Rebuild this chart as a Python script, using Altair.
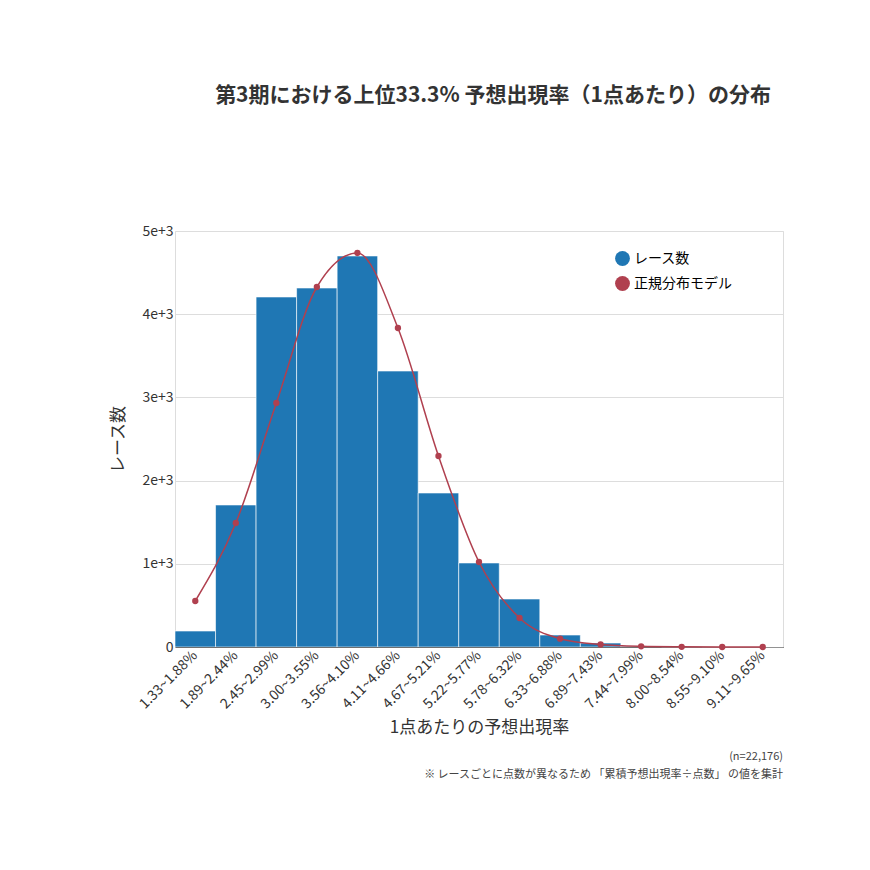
import pandas as pd
import altair as alt

FONT = "Noto Sans CJK JP"

# bins of expected appearance rate per point
bins = ["1.33~1.88%", "1.89~2.44%", "2.45~2.99%", "3.00~3.55%", "3.56~4.10%",
        "4.11~4.66%", "4.67~5.21%", "5.22~5.77%", "5.78~6.32%", "6.33~6.88%",
        "6.89~7.43%", "7.44~7.99%", "8.00~8.54%", "8.55~9.10%", "9.11~9.65%"]
race_counts = [192, 1707, 4207, 4315, 4700, 3317, 1851, 1010, 577, 144, 48, 10, 3, 1, 1]
normal_model = [553, 1490, 2933, 4327, 4736, 3834, 2296, 1022, 349, 100, 30, 8, 2, 0, 0]

bar_df = pd.DataFrame({"bin": bins, "value": race_counts, "series": "レース数"})
line_df = pd.DataFrame({"bin": bins, "value": normal_model, "series": "正規分布モデル"})

color = alt.Color("series:N", scale=alt.Scale(domain=["レース数", "正規分布モデル"],
                                              range=["#1f77b4", "#b0404f"]),
                  legend=alt.Legend(title=None, orient="none", legendX=440, legendY=20,
                                    symbolType="circle", symbolSize=220, symbolOpacity=1,
                                    labelFontSize=14, labelFont=FONT, rowPadding=10,
                                    symbolStrokeWidth=0))

x = alt.X("bin:N", sort=bins, scale=alt.Scale(paddingInner=0, paddingOuter=0),
          axis=alt.Axis(title="1点あたりの予想出現率", labelAngle=-45, labelAlign="right",
                        labelBaseline="middle", labelFontSize=14, titleFontSize=17,
                        titleFontWeight="normal", labelColor="#333", titleColor="#333",
                        ticks=False, domainColor="#333", labelPadding=6, titlePadding=8))
y = alt.Y("value:Q", scale=alt.Scale(domain=[0, 5000]),
          axis=alt.Axis(title="レース数", values=[0, 1000, 2000, 3000, 4000, 5000], format=",",
                        labelFontSize=14, titleFontSize=17, titleFontWeight="normal",
                        labelColor="#333", titleColor="#333", ticks=False, domain=False,
                        gridColor="#ddd", titlePadding=14))

bars = alt.Chart(bar_df).mark_bar(stroke="white", strokeWidth=0.6).encode(x=x, y=y, color=color)
curve = alt.Chart(line_df).mark_line(interpolate="monotone", strokeWidth=1.5).encode(x=x, y=y, color=color)
dots = alt.Chart(line_df).mark_circle(size=40, opacity=1).encode(x=x, y=y, color=color)

note1 = alt.Chart(pd.DataFrame({"t": ["(n=22,176)"]})).mark_text(
    align="right", fontSize=11, font=FONT, color="#444").encode(
    text="t:N", x=alt.value(608), y=alt.value(110 + 416))
note2 = alt.Chart(pd.DataFrame({"t": ["※ レースごとに点数が異なるため 「累積予想出現率÷点数」 の値を集計"]})).mark_text(
    align="right", fontSize=11, font=FONT, color="#444").encode(
    text="t:N", x=alt.value(608), y=alt.value(128 + 416))

chart = alt.layer(bars, curve, dots, note1, note2).properties(
    width=608, height=416,
    autosize=alt.AutoSizeParams(type="none"),
    padding={"left": 167, "top": 223, "right": 79, "bottom": 215},
    title=alt.Title("第3期における上位33.3% 予想出現率（1点あたり）の分布", fontSize=21,
                    font=FONT, fontWeight="bold", color="#333", offset=118, dx=14),
).configure_view(stroke=None).configure(font=FONT)

chart.save("out.html", embed_options={"renderer": "svg", "actions": False})
